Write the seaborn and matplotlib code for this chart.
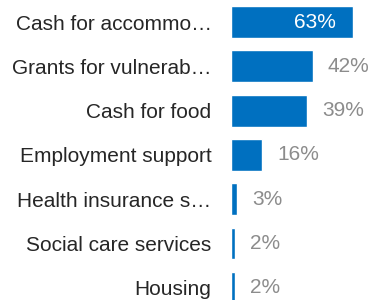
import pandas as pd
import matplotlib
matplotlib.use("Agg")
import matplotlib.pyplot as plt
import seaborn as sns

sns.set_theme(style="white")
plt.rcParams["font.family"] = ["Liberation Sans", "DejaVu Sans"]

categories = [
    "Cash for accommo…",
    "Grants for vulnerab…",
    "Cash for food",
    "Employment support",
    "Health insurance s…",
    "Social care services",
    "Housing",
]
values = [63, 42, 39, 16, 3, 2, 2]

BAR_COLOR = "#0070C0"
LABEL_GRAY = "#8C8C8C"

df = pd.DataFrame({"category": categories, "value": values})

fig = plt.figure(figsize=(3.69, 3.00), dpi=100)
ax = fig.add_axes([231 / 369, 0, 138 / 369, 1])

sns.barplot(data=df, x="value", y="category", orient="h", color=BAR_COLOR,
            saturation=1, width=0.72, ax=ax)

ax.set_xlim(0, 71)
ax.set_ylim(6.275, -0.497)
ax.set_xlabel("")
ax.set_ylabel("")
ax.set_xticks([])
ax.tick_params(axis="y", length=0, pad=14, labelsize=15, labelcolor="#262626")
for s in ax.spines.values():
    s.set_visible(False)

for i, v in enumerate(values):
    if v > 50:
        ax.text(v - 9, i, f"{v}%", ha="right", va="center", color="white", fontsize=15)
    else:
        ax.text(v + 7.7, i, f"{v}%", ha="left", va="center", color=LABEL_GRAY, fontsize=15)

fig.savefig("out.png", dpi=100)
